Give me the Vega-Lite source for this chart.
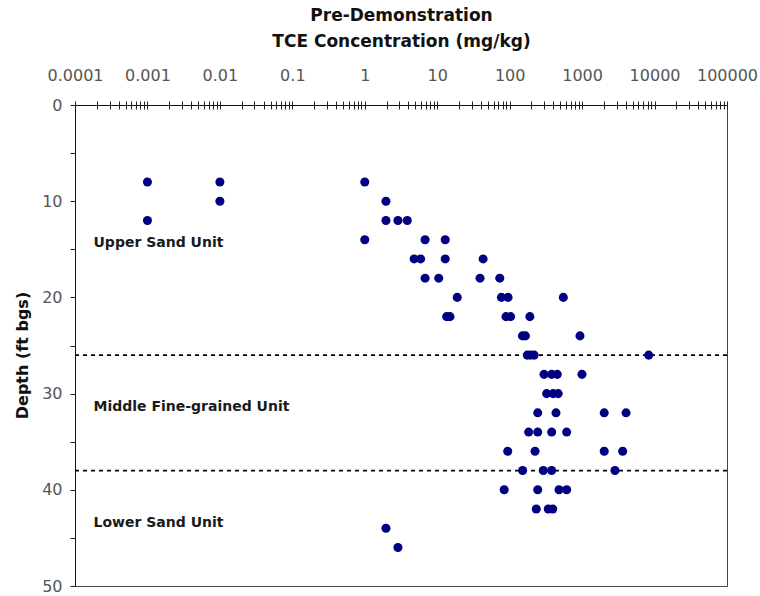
{
  "$schema": "https://vega.github.io/schema/vega-lite/v6.json",
  "width": 652,
  "height": 481,
  "autosize": {"type": "none"},
  "padding": {"left": 75, "top": 105, "right": 33, "bottom": 10},
  "background": "white",
  "config": {
    "view": {"stroke": "#444", "strokeWidth": 1},
    "font": "DejaVu Sans"
  },
  "datasets": {
    "pts": [
      {"conc": 0.001, "depth": 8}, {"conc": 0.01, "depth": 8}, {"conc": 1, "depth": 8},
      {"conc": 0.01, "depth": 10}, {"conc": 1.96, "depth": 10},
      {"conc": 0.001, "depth": 12}, {"conc": 1.96, "depth": 12}, {"conc": 2.87, "depth": 12}, {"conc": 3.86, "depth": 12},
      {"conc": 1, "depth": 14}, {"conc": 6.8, "depth": 14}, {"conc": 12.9, "depth": 14},
      {"conc": 4.8, "depth": 16}, {"conc": 5.9, "depth": 16}, {"conc": 12.9, "depth": 16}, {"conc": 43, "depth": 16},
      {"conc": 6.8, "depth": 18}, {"conc": 10.5, "depth": 18}, {"conc": 39, "depth": 18}, {"conc": 73, "depth": 18},
      {"conc": 18.9, "depth": 20}, {"conc": 77, "depth": 20}, {"conc": 95, "depth": 20}, {"conc": 550, "depth": 20},
      {"conc": 13.5, "depth": 22}, {"conc": 15, "depth": 22}, {"conc": 89, "depth": 22}, {"conc": 103, "depth": 22}, {"conc": 190, "depth": 22},
      {"conc": 150, "depth": 24}, {"conc": 165, "depth": 24}, {"conc": 935, "depth": 24},
      {"conc": 175, "depth": 26}, {"conc": 195, "depth": 26}, {"conc": 218, "depth": 26}, {"conc": 8300, "depth": 26},
      {"conc": 298, "depth": 28}, {"conc": 380, "depth": 28}, {"conc": 454, "depth": 28}, {"conc": 996, "depth": 28},
      {"conc": 324, "depth": 30}, {"conc": 399, "depth": 30}, {"conc": 468, "depth": 30},
      {"conc": 244, "depth": 32}, {"conc": 436, "depth": 32}, {"conc": 2020, "depth": 32}, {"conc": 4040, "depth": 32},
      {"conc": 183, "depth": 34}, {"conc": 244, "depth": 34}, {"conc": 380, "depth": 34}, {"conc": 612, "depth": 34},
      {"conc": 94, "depth": 36}, {"conc": 224, "depth": 36}, {"conc": 2020, "depth": 36}, {"conc": 3630, "depth": 36},
      {"conc": 151, "depth": 38}, {"conc": 291, "depth": 38}, {"conc": 380, "depth": 38}, {"conc": 2840, "depth": 38},
      {"conc": 84, "depth": 40}, {"conc": 244, "depth": 40}, {"conc": 480, "depth": 40}, {"conc": 612, "depth": 40},
      {"conc": 233, "depth": 42}, {"conc": 341, "depth": 42}, {"conc": 393, "depth": 42},
      {"conc": 1.96, "depth": 44},
      {"conc": 2.87, "depth": 46}
    ],
    "bounds": [{"depth": 26}, {"depth": 38}],
    "units": [
      {"conc": 0.00018, "depth": 14.35, "label": "Upper Sand Unit"},
      {"conc": 0.00018, "depth": 31.4, "label": "Middle Fine-grained Unit"},
      {"conc": 0.00018, "depth": 43.45, "label": "Lower Sand Unit"}
    ]
  },
  "layer": [
    {
      "data": {"name": "bounds"},
      "mark": {"type": "rule", "color": "black", "strokeWidth": 1.8, "strokeDash": [4, 4]},
      "encoding": {
        "y": {"field": "depth", "type": "quantitative", "scale": {"domain": [0, 50], "reverse": true, "nice": false}}
      }
    },
    {
      "data": {"name": "pts"},
      "mark": {"type": "circle", "size": 82, "color": "#000080", "opacity": 1},
      "encoding": {
        "x": {
          "field": "conc", "type": "quantitative",
          "scale": {"type": "log", "domain": [0.0001, 100000], "nice": false},
          "axis": {
            "orient": "top",
            "values": [0.0001,0.0002,0.0003,0.0004,0.0005,0.0006,0.0007,0.0008,0.0009,
                       0.001,0.002,0.003,0.004,0.005,0.006,0.007,0.008,0.009,
                       0.01,0.02,0.03,0.04,0.05,0.06,0.07,0.08,0.09,
                       0.1,0.2,0.3,0.4,0.5,0.6,0.7,0.8,0.9,
                       1,2,3,4,5,6,7,8,9,
                       10,20,30,40,50,60,70,80,90,
                       100,200,300,400,500,600,700,800,900,
                       1000,2000,3000,4000,5000,6000,7000,8000,9000,
                       10000,20000,30000,40000,50000,60000,70000,80000,90000,100000],
            "labelExpr": "abs(log(datum.value)/LN10 - round(log(datum.value)/LN10)) < 0.000001 ? toString(datum.value) : ''",
            "labelFontSize": 16,
            "labelColor": "#555555",
            "labelPadding": 18,
            "labelFlush": false,
            "labelOverlap": false,
            "tickSize": 4,
            "tickColor": "#222",
            "domainColor": "#111",
            "grid": false,
            "title": ["Pre-Demonstration", "TCE Concentration (mg/kg)"],
            "titleFontSize": 17,
            "titleFontWeight": "bold",
            "titleColor": "#111",
            "titleLineHeight": 26,
            "titlePadding": 17
          }
        },
        "y": {
          "field": "depth", "type": "quantitative",
          "scale": {"domain": [0, 50], "reverse": true, "nice": false},
          "axis": {
            "orient": "left",
            "values": [0, 5, 10, 15, 20, 25, 30, 35, 40, 45, 50],
            "labelExpr": "datum.value % 10 == 0 ? datum.label : ''",
            "labelFontSize": 16,
            "labelColor": "#555555",
            "labelPadding": 8,
            "tickSize": 5,
            "tickColor": "#222",
            "domainColor": "#111",
            "grid": false,
            "title": "Depth (ft bgs)",
            "titleFontSize": 16,
            "titleFontWeight": "bold",
            "titleColor": "#111",
            "titlePadding": 11,
            "titleY": 250
          }
        }
      }
    },
    {
      "data": {"name": "units"},
      "mark": {"type": "text", "align": "left", "baseline": "middle", "fontSize": 14, "fontWeight": "bold", "color": "#1a1a1a"},
      "encoding": {
        "x": {
          "field": "conc", "type": "quantitative",
          "scale": {"type": "log", "domain": [0.0001, 100000], "nice": false},
          "axis": {
            "orient": "top",
            "values": [0.0002,0.0003,0.0004,0.0005,0.0006,0.0007,0.0008,0.0009,
                       0.001,0.002,0.003,0.004,0.005,0.006,0.007,0.008,0.009,
                       0.01,0.02,0.03,0.04,0.05,0.06,0.07,0.08,0.09,
                       0.1,0.2,0.3,0.4,0.5,0.6,0.7,0.8,0.9,
                       1,2,3,4,5,6,7,8,9,
                       10,20,30,40,50,60,70,80,90,
                       100,200,300,400,500,600,700,800,900,
                       1000,2000,3000,4000,5000,6000,7000,8000,9000,
                       10000,20000,30000,40000,50000,60000,70000,80000,90000,100000],
            "labels": false,
            "domain": false,
            "grid": false,
            "tickSize": -4,
            "tickColor": "#222",
            "title": null
          }
        },
        "y": {"field": "depth", "type": "quantitative", "scale": {"domain": [0, 50], "reverse": true, "nice": false}},
        "text": {"field": "label"}
      }
    }
  ],
  "resolve": {"axis": {"x": "independent", "y": "shared"}}
}
